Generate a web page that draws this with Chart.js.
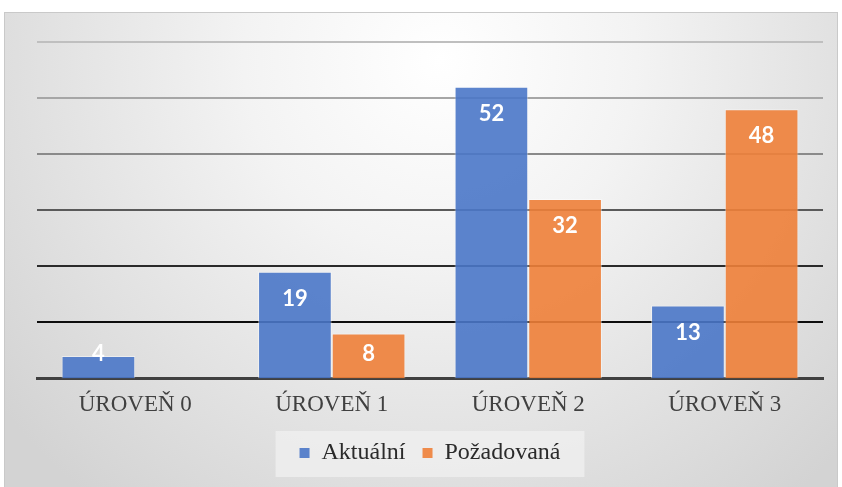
<!DOCTYPE html>
<html><head><meta charset="utf-8">
<script src="https://cdn.jsdelivr.net/npm/chart.js@4"></script>
<style>html,body{margin:0;padding:0;background:#fff}#wrap{width:842px;height:487px;position:relative}</style>
</head><body><div id="wrap"><canvas id="c" width="842" height="487"></canvas></div>
<script>
const categories = ["ÚROVEŇ 0", "ÚROVEŇ 1", "ÚROVEŇ 2", "ÚROVEŇ 3"];
const seriesNames = ["Aktuální", "Požadovaná"];
const actualValues = [4, 19, 52, 13];
const requiredValues = [null, 8, 32, 48];
const yTicks = [0, 10, 20, 30, 40, 50, 60];

const SERIF = "Liberation Serif, Times New Roman, DejaVu Serif, serif";
const gridColors = {60:"#bfbfbf",50:"#a6a6a6",40:"#8a8a8a",30:"#5a5a5a",20:"#2a2a2a",10:"#0d0d0d",0:"#404040"};

const bgPlugin = {
  id: "bg",
  beforeDraw(chart) {
    const ctx = chart.ctx;
    ctx.save();
    ctx.fillStyle = "#ffffff";
    ctx.fillRect(0, 0, chart.width, chart.height);
    const g = ctx.createRadialGradient(440, 60, 0, 440, 60, 560);
    g.addColorStop(0, "#ffffff");
    g.addColorStop(0.35, "#f3f3f3");
    g.addColorStop(1, "#d3d3d3");
    ctx.fillStyle = g;
    ctx.fillRect(4, 12, 834, 475);
    ctx.strokeStyle = "#c9c9c9";
    ctx.lineWidth = 1;
    ctx.strokeRect(4.5, 12.5, 833, 480);
    const lg = chart.legend;
    if (lg && lg.legendHitBoxes && lg.legendHitBoxes.length) {
      const hb = lg.legendHitBoxes;
      const l = hb[0].left - 24, r = hb[hb.length-1].left + hb[hb.length-1].width + 24;
      const t = hb[0].top - 10, b = hb[0].top + hb[0].height + 12;
      ctx.fillStyle = "rgba(240,240,240,0.75)";
      ctx.fillRect(l, t, r - l, b - t);
    }
    ctx.restore();
  }
};

const labelPlugin = {
  id: "vlabels",
  afterDatasetsDraw(chart) {
    const ctx = chart.ctx;
    ctx.save();
    ctx.font = "bold 22px Lato, 'Open Sans', sans-serif";
    ctx.fillStyle = "#ffffff";
    ctx.textAlign = "center";
    ctx.textBaseline = "middle";
    chart.data.datasets.forEach((ds, i) => {
      const meta = chart.getDatasetMeta(i);
      meta.data.forEach((el, j) => {
        const v = ds.data[j];
        if (v === null || v === undefined) return;
        const y = Math.min(el.y + 27, el.base - 24);
        ctx.fillText(String(v), el.x, y);
      });
    });
    ctx.restore();
  }
};

new Chart(document.getElementById("c"), {
  type: "bar",
  data: {
    labels: categories,
    datasets: [
      { label: seriesNames[0], data: actualValues, backgroundColor: "rgba(74,119,200,0.9)", borderColor: "rgba(255,255,255,0.45)", borderWidth: 1, categoryPercentage: 0.75, barPercentage: 1 },
      { label: seriesNames[1], data: requiredValues, backgroundColor: "rgba(238,128,56,0.9)", borderColor: "rgba(255,255,255,0.45)", borderWidth: 1, categoryPercentage: 0.75, barPercentage: 1 }
    ]
  },
  options: {
    responsive: false,
    animation: false,
    layout: { padding: { left: 37, right: 19, top: 42, bottom: 12 } },
    plugins: {
      tooltip: { enabled: false },
      legend: {
        position: "bottom",
        labels: {
          boxWidth: 10, boxHeight: 10, padding: 17,
          font: { family: SERIF, size: 24 },
          color: "#2b2b2b",
          generateLabels(chart) {
            return chart.data.datasets.map((d, i) => ({ text: d.label, fillStyle: d.backgroundColor, strokeStyle: "transparent", lineWidth: 0, datasetIndex: i, fontColor: "#2b2b2b" }));
          }
        }
      }
    },
    scales: {
      x: {
        grid: { display: false },
        border: { display: true, color: "#404040", width: 3 },
        ticks: { color: "#404040", font: { family: SERIF, size: 23 }, padding: 5 }
      },
      y: {
        min: 0, max: 60,
        afterBuildTicks(scale) { scale.ticks = yTicks.map(v => ({ value: v })); },
        ticks: { display: false },
        border: { display: false },
        grid: {
          drawTicks: false,
          color: (c) => gridColors[c.tick.value] || "#000",
          lineWidth: (c) => c.tick.value === 0 ? 0 : 2
        }
      }
    }
  },
  plugins: [bgPlugin, labelPlugin]
});
</script></body></html>
